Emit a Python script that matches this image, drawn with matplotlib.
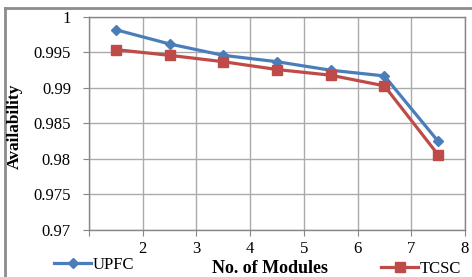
import matplotlib
matplotlib.use('Agg')
import matplotlib.pyplot as plt
from matplotlib.lines import Line2D

# data
modules = [1.5, 2.5, 3.5, 4.5, 5.5, 6.5, 7.5]
upfc = [0.9982, 0.9962, 0.9946, 0.9937, 0.9925, 0.9917, 0.9825]
tcsc = [0.9954, 0.9946, 0.9937, 0.9926, 0.9918, 0.9903, 0.9806]
yticks = [0.97, 0.975, 0.98, 0.985, 0.99, 0.995, 1.0]
ylabels = ['0.97', '0.975', '0.98', '0.985', '0.99', '0.995', '1']
xticks = [1, 2, 3, 4, 5, 6, 7, 8]
xlabels = ['', '2', '3', '4', '5', '6', '7', '8']

blue = '#4A7EBB'
red = '#BE4B48'
grid_c = '#ABABAB'

plt.rcParams['font.family'] = ['Liberation Serif', 'DejaVu Serif']

fig = plt.figure(figsize=(4.72, 2.77), dpi=100)
ax = fig.add_axes([0.1886, 0.1697, 0.7964, 0.769])

ax.plot(modules, upfc, color=blue, lw=2.3, marker='D', ms=5.5, label='UPFC', zorder=3)
ax.plot(modules, tcsc, color=red, lw=2.3, marker='s', ms=7, label='TCSC', zorder=3)

ax.set_xlim(1, 8)
ax.set_ylim(0.97, 1.0)
ax.set_xticks(xticks)
ax.set_xticklabels(xlabels, fontsize=12)
ax.set_yticks(yticks)
ax.set_yticklabels(ylabels, fontsize=12)
ax.grid(True, color=grid_c, lw=1)
ax.set_axisbelow(True)
ax.tick_params(axis='y', length=4, color='#868686', pad=9)
ax.tick_params(axis='x', length=4, color='#868686', pad=4)
for s in ax.spines.values():
    s.set_color('#868686')
    s.set_linewidth(1)

fig.text(0.032, 0.545, 'Availability', rotation=90, ha='center', va='center',
         fontsize=12.5, fontweight='bold')
fig.text(0.572, 0.032, 'No. of Modules', ha='center', va='center',
         fontsize=13, fontweight='bold')

# legend entries, split left/right like the original
h1 = Line2D([], [], color=blue, lw=2.3, marker='D', ms=5.5)
h2 = Line2D([], [], color=red, lw=2.3, marker='s', ms=7)
fig.legend([h1], ['UPFC'], loc='center left', bbox_to_anchor=(0.115, 0.043),
           frameon=False, fontsize=12, handlelength=2.2, handletextpad=0.1,
           borderpad=0, borderaxespad=0)
fig.legend([h2], ['TCSC'], loc='center left', bbox_to_anchor=(0.808, 0.03),
           frameon=False, fontsize=12, handlelength=2.2, handletextpad=0.1,
           borderpad=0, borderaxespad=0)

# outer chart frame (only top/left visible, cropped at right/bottom)
fig.add_artist(Line2D([0.0106, 0.0106], [0.0, 0.971], color='#8C8C8C', lw=2,
                      transform=fig.transFigure))
fig.add_artist(Line2D([0.0106, 1.0], [0.971, 0.971], color='#8C8C8C', lw=2,
                      transform=fig.transFigure))

fig.savefig('out.png', dpi=100)
